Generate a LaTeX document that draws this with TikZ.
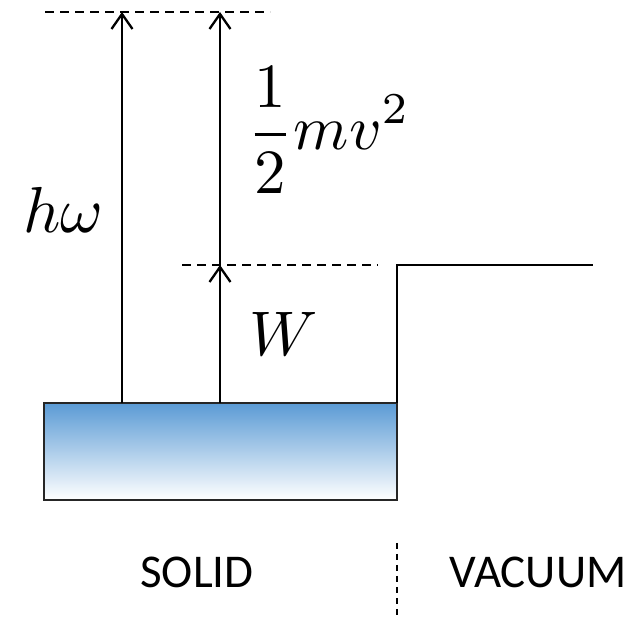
\documentclass[tikz,border=0pt]{standalone}
\usepackage{fontspec}
\newfontfamily\labelfont{Carlito}
\usetikzlibrary{arrows.meta}
\definecolor{solidblue}{RGB}{91,155,213}
\begin{document}
\begin{tikzpicture}[x=1pt,y=-1pt,
  line width=2.3pt,
  arr/.style={-{Straight Barb[length=15pt,width=21pt,line width=2.3pt]}},
  level/.style={dashed, dash pattern=on 9pt off 6pt},
  mathlbl/.style={anchor=base west, inner sep=0pt},
  txt/.style={anchor=base, inner sep=0pt, font=\labelfont\fontsize{47}{56}\selectfont}]
\useasboundingbox (0,0) rectangle (641,620);
% solid block
\node[draw=black!85, line width=2.3pt, minimum width=353pt, minimum height=97pt, inner sep=0pt,
      top color=solidblue, bottom color=white] (box) at (220.5,451.5) {};
% coordinates
\coordinate (a1b) at (122,403);
\coordinate (a1t) at (122,12);
\coordinate (a2b) at (220,403);
\coordinate (a2m) at (220,265);
\coordinate (a2t) at (220,12);
\coordinate (topL) at (45,12);
\coordinate (topR) at (270,12);
\coordinate (midL) at (182,265);
\coordinate (midR) at (378,265);
\coordinate (stepB) at (397,403);
\coordinate (stepC) at (397,265);
\coordinate (stepE) at (593,265);
\coordinate (divT) at (397,543);
\coordinate (divB) at (397,620);
% level lines
\draw[level] (topL) -- (topR);
\draw[level] (midL) -- (midR);
% arrows
\draw[arr] (a1b) -- (a1t);
\draw[arr] (a2b) -- (a2m);
\draw[arr] (a2m) -- (a2t);
% vacuum step
\draw (stepB) -- (stepC) -- (stepE);
% divider
\draw[dashed, dash pattern=on 6pt off 5pt] (divT) -- (divB);
% labels
\node[mathlbl] (hw) at (22,233) {\scalebox{6.5}{$h\omega$}};
\node[mathlbl] (ke) at (246,150) {\scalebox{6.3}{$\displaystyle\frac{1}{2}mv^2$}};
\node[mathlbl] (w) at (248,356) {\scalebox{6.3}{$W$}};
\node[txt] (solid) at (197,588) {SOLID};
\node[txt] (vac) at (538,588) {VACUUM};
\end{tikzpicture}
\end{document}
